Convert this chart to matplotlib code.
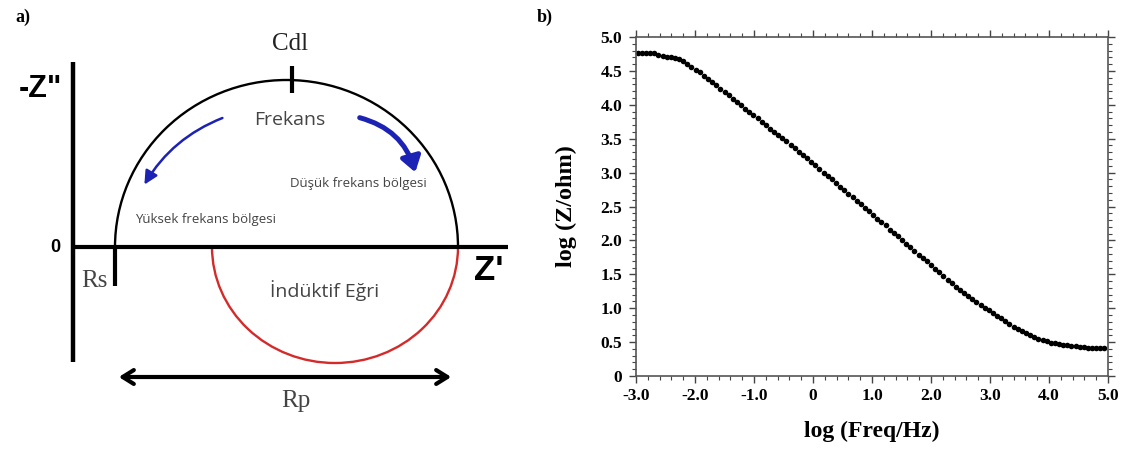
import numpy as np
import matplotlib
matplotlib.use('Agg')
import matplotlib.pyplot as plt
from matplotlib.patches import Arc, FancyArrowPatch
from matplotlib.ticker import MultipleLocator, FixedLocator

# Panel b data: log(Freq/Hz) vs log(Z/ohm)
log_freq = [-2.97, -2.90, -2.83, -2.76, -2.69, -2.62, -2.55, -2.48, -2.41, -2.34,
            -2.27, -2.20, -2.13, -2.06, -1.99, -1.92, -1.85, -1.78, -1.71, -1.64,
            -1.57, -1.50, -1.43, -1.36, -1.29, -1.22, -1.15, -1.08, -1.01, -0.94,
            -0.87, -0.80, -0.73, -0.66, -0.59, -0.52, -0.45, -0.38, -0.31, -0.24,
            -0.17, -0.10, -0.03, 0.04, 0.11, 0.18, 0.25, 0.32, 0.39, 0.46,
            0.53, 0.60, 0.67, 0.74, 0.81, 0.88, 0.95, 1.02, 1.09, 1.16,
            1.23, 1.30, 1.37, 1.44, 1.51, 1.58, 1.65, 1.72, 1.79, 1.86,
            1.93, 2.00, 2.07, 2.14, 2.21, 2.28, 2.35, 2.42, 2.49, 2.56,
            2.63, 2.70, 2.77, 2.84, 2.91, 2.98, 3.05, 3.12, 3.19, 3.26,
            3.33, 3.40, 3.47, 3.54, 3.61, 3.68, 3.75, 3.82, 3.89, 3.96,
            4.03, 4.10, 4.17, 4.24, 4.31, 4.38, 4.45, 4.52, 4.59, 4.66,
            4.73, 4.80, 4.87, 4.94]
log_z = [4.76, 4.76, 4.76, 4.76, 4.76, 4.73, 4.72, 4.71, 4.70, 4.69,
         4.68, 4.64, 4.60, 4.56, 4.52, 4.48, 4.43, 4.38, 4.33, 4.29,
         4.24, 4.19, 4.14, 4.09, 4.04, 3.99, 3.94, 3.90, 3.85, 3.80,
         3.75, 3.70, 3.65, 3.60, 3.56, 3.51, 3.46, 3.41, 3.36, 3.31,
         3.26, 3.21, 3.16, 3.11, 3.06, 3.00, 2.95, 2.90, 2.85, 2.79,
         2.74, 2.69, 2.64, 2.58, 2.53, 2.48, 2.43, 2.37, 2.32, 2.27,
         2.22, 2.16, 2.11, 2.06, 2.01, 1.95, 1.90, 1.85, 1.79, 1.74,
         1.69, 1.63, 1.58, 1.53, 1.47, 1.42, 1.37, 1.32, 1.27, 1.23,
         1.18, 1.14, 1.09, 1.05, 1.01, 0.97, 0.93, 0.89, 0.85, 0.81,
         0.77, 0.73, 0.70, 0.66, 0.63, 0.60, 0.57, 0.55, 0.53, 0.51,
         0.49, 0.48, 0.47, 0.46, 0.45, 0.44, 0.44, 0.43, 0.43, 0.42,
         0.42, 0.41, 0.41, 0.41]

x_ticks = [-3, -2, -1, 0, 1, 2, 3, 4, 5]
x_tick_labels = ['-3.0', '-2.0', '-1.0', '0', '1.0', '2.0', '3.0', '4.0', '5.0']
y_ticks = [0, 0.5, 1, 1.5, 2, 2.5, 3, 3.5, 4, 4.5, 5]
y_tick_labels = ['0', '0.5', '1.0', '1.5', '2.0', '2.5', '3.0', '3.5', '4.0', '4.5', '5.0']

SERIF = 'Liberation Serif'
SANS = 'Open Sans'

fig = plt.figure(figsize=(11.28, 4.5), dpi=100)

# ---------- panel a: schematic Nyquist diagram (pixel coordinates) ----------
axa = fig.add_axes([0, 0, 520 / 1128, 1])
axa.set_xlim(0, 520)
axa.set_ylim(450, 0)
axa.axis('off')

# axes of the diagram
axa.plot([73, 73], [62, 362], color='black', lw=3.2, solid_capstyle='butt')
axa.plot([73, 508], [247, 247], color='black', lw=3.0, solid_capstyle='butt')

# upper (capacitive) semicircle and lower (inductive) loop
axa.add_patch(Arc((286.5, 247), 343, 334, theta1=180, theta2=360, color='black', lw=1.7))
axa.add_patch(Arc((335, 247), 246, 232, theta1=0, theta2=180, color='#d42a2a', lw=1.7))

# Cdl and Rs markers
axa.plot([292, 292], [66, 93], color='black', lw=3.0, solid_capstyle='butt')
axa.plot([115, 115], [247, 286], color='black', lw=3.0, solid_capstyle='butt')

# Rp double arrow
axa.add_patch(FancyArrowPatch((116, 377), (454, 377), arrowstyle='<->,head_length=8,head_width=5',
                              color='black', lw=3.0, mutation_scale=1))

# blue frequency arrows
axa.add_patch(FancyArrowPatch((225, 117), (143, 187), connectionstyle='arc3,rad=0.18',
                              arrowstyle='-|>,head_length=8,head_width=4', color='#1c22b4',
                              lw=1.8, mutation_scale=1))
axa.add_patch(FancyArrowPatch((357, 117), (416, 175), connectionstyle='arc3,rad=-0.3',
                              arrowstyle='-|>,head_length=9,head_width=6', color='#1c22b4',
                              lw=3.6, mutation_scale=1))

axa.text(15, 17, 'a)', fontsize=13, fontweight='bold', family=SERIF, ha='left', va='center')
axa.text(40, 89, '-Z"', fontsize=22, fontweight='bold', family='Liberation Sans', ha='center', va='center')
axa.text(55, 247, '0', fontsize=13, fontweight='bold', family='Liberation Sans', ha='center', va='center')
axa.text(489, 271, "Z'", fontsize=25, fontweight='bold', family='Liberation Sans', ha='center', va='center')
axa.text(290, 44, 'Cdl', fontsize=18, family=SERIF, color='#222222', ha='center', va='center')
axa.text(94, 281, 'Rs', fontsize=18, family=SERIF, color='#444444', ha='center', va='center')
axa.text(296, 401, 'Rp', fontsize=18, family=SERIF, color='#444444', ha='center', va='center')
axa.text(290, 120, 'Frekans', fontsize=14, family=SANS, color='#444444', ha='center', va='center')
axa.text(358, 183, 'Düşük frekans bölgesi', fontsize=9.5, family=SANS, color='#444444', ha='center', va='center')
axa.text(205, 219, 'Yüksek frekans bölgesi', fontsize=9.5, family=SANS, color='#444444', ha='center', va='center')
axa.text(325, 291, 'İndüktif Eğri', fontsize=14, family=SANS, color='#444444', ha='center', va='center')

# ---------- panel b: Bode magnitude plot ----------
axb = fig.add_axes([636 / 1128, 1 - 376 / 450, 472 / 1128, 339 / 450])
axb.plot(log_freq, log_z, 'o', color='black', ms=4.0, mew=0, clip_on=False)
axb.set_xlim(-3, 5)
axb.set_ylim(0, 5)

axb.xaxis.set_major_locator(FixedLocator(x_ticks))
axb.set_xticklabels(x_tick_labels)
axb.yaxis.set_major_locator(FixedLocator(y_ticks))
axb.set_yticklabels(y_tick_labels)
axb.xaxis.set_minor_locator(MultipleLocator(0.2))
axb.yaxis.set_minor_locator(MultipleLocator(0.1))
axb.tick_params(which='both', direction='out', top=True, right=True, color='#444444')
axb.tick_params(which='major', length=5, width=1)
axb.tick_params(which='minor', length=3, width=0.8)
axb.tick_params(axis='both', labelsize=12.5)
axb.tick_params(axis='y', pad=5)
axb.tick_params(axis='x', pad=4)
for lab in axb.get_xticklabels() + axb.get_yticklabels():
    lab.set_fontfamily(SERIF)
    lab.set_fontweight('bold')
for sp in axb.spines.values():
    sp.set_color('#555555')
    sp.set_linewidth(1.2)

axb.set_xlabel('log (Freq/Hz)', fontsize=17, fontweight='bold', family=SERIF, labelpad=12)
axb.set_ylabel('log (Z/ohm)', fontsize=17.5, fontweight='bold', family=SERIF, labelpad=17)

fig.text(537 / 1128, 1 - 17 / 450, 'b)', fontsize=13, fontweight='bold', family=SERIF, ha='left', va='center')

fig.savefig('out.png', dpi=100)
